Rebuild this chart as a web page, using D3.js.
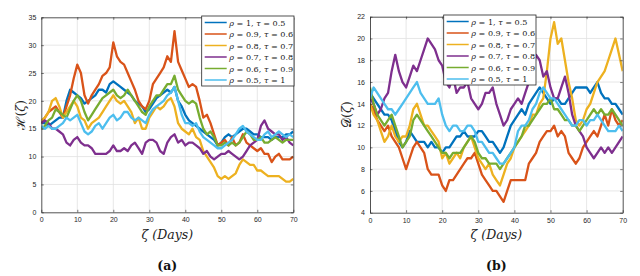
<!DOCTYPE html>
<html>
<head>
<meta charset="utf-8">
<script src="https://cdn.jsdelivr.net/npm/d3@7"></script>
<style>
  body { margin: 0; background: #fff; }
  svg { display: block; }
  text.serif { font-family: "DejaVu Serif", serif; }
</style>
</head>
<body>
<div id="chart"></div>
<script>
// x values: days 0..70
const days = d3.range(0, 71);

const legendLabels = [
  ['1', '0.5'], ['0.9', '0.6'], ['0.8', '0.7'],
  ['0.7', '0.8'], ['0.6', '0.9'], ['0.5', '1']
];
const colors = ['#0072BD', '#D95319', '#EDB120', '#7E2F8E', '#77AC30', '#4DBEEE'];

const xTicks = [0, 10, 20, 30, 40, 50, 60, 70];
const hTicks = [0, 5, 10, 15, 20, 25, 30, 35];
const dTicks = [4, 6, 8, 10, 12, 14, 16, 18, 20, 22];

// panel (a) H(zeta)
const hBlue = [16,16,15.5,16,16.5,17,17,20,22,21.5,21,20.5,19.5,20,20.5,21,22,22,21.5,23,23.5,23,22.5,22,21.5,21,20,19.5,19,18,18.5,19.5,20.5,21,21.5,22,21.5,22.5,20,19,17.5,16.5,16,15.5,15,14.5,14,13.5,13,12,12.5,13.5,14,13.5,14,14.5,15,15,14.5,14,14,13.5,13.5,13.5,13,13.5,13.5,13.5,14,14,14.5];
const hOrange = [16,17,18,18.5,19,18,17,19,21,24,26.5,25,21,19.5,21,22,23,24.5,25,26,30.5,28,27,26.5,25,23.5,22,20,19,18.5,20,23,24,25,26,28,27,32.5,27,25.5,24,22.5,23,22.5,20,17,17.5,16,14,12,12.5,13,12,13.5,12,12.5,14,12.5,12,11.5,11,11.5,10.5,10.5,9,10,10.5,9.5,9.5,9.5,10];
const hYellow = [16.5,17,18,20,20.5,19,17,18,19,20,19,17,16.5,15,16,16.5,17,18,19,20,21,20,19.5,20,19,18,16,17,15,15,17,18,19,18.5,19,20,20.5,19,16,15,14.5,14,15,13.5,13,11,10,9,8,6.5,6,6.5,6,6.5,7,8.5,9.5,9,8.5,8.5,7.5,7.5,7,6.5,6.5,6.5,6.5,6,5.5,5.5,6];
const hPurple = [16,16.5,16,15,15,14.5,14,12.5,12,13,13.5,12.5,12,12,11.5,10.5,10.5,10.5,10.5,11,12,11,11,11.5,11,12,12.5,11.5,10.5,12.5,13,13,12.5,11,10.5,12.5,13.5,14,12.5,13,12,12.5,12.5,12,11.5,10.5,11,10,9.5,10,10.5,10.5,11,10.5,10,9.5,10,11,12,12.5,13,15.5,16.5,15,14.5,14,14,13,13.5,12.5,12];
const hGreen = [15,15.5,16.5,17,18.5,18,17.5,17,18.5,20,21,20,18,16.5,17.5,18.5,19.5,20.5,21,21.5,22,21,20.5,21,22,21,20,19,18,17.5,19,20,21,21,22,23,23,24.5,22,21,20,19.5,20,19.5,17,15,14,14.5,13.5,12,12,12.5,12,12.5,12,12.5,13.5,14.5,14,13,13,13.5,12.5,12.5,13,13.5,13,12.5,13,13,13];
const hCyan = [15.5,15,15.5,15,15,15.5,16,17,16.5,17,17.5,16,14.5,14,14.5,15.5,16,15,16,17,17.5,16.5,17,18,18,17,16.5,17,16.5,16,17.5,18.5,19,19.5,20,21,21.5,22.5,20,17.5,16,16,15.5,16,14.5,13.5,13,12.5,12,11.5,11.5,12,12.5,13,14,15,15.5,14.5,14,13.5,13,13,14,14.5,13.5,14,14.5,14,13.5,14,13.5];

// panel (b) D(zeta)
const dBlue = [15,14.5,14,13.5,13,13,12.5,11.5,10.5,10,10.5,11.5,11,10.5,10.5,10.5,10,10.5,10,10,9.5,10,10,10.5,11,11,11.5,11,11,11,11.5,11.5,11,10.5,10.5,10,9.5,10,11,12,12.5,13,13.5,13,14,14.5,15,15.5,15,14.5,14,14.5,14.5,14,14,14.5,15,15.5,15.5,15.5,15.5,15,15.5,16,15,14.5,14.5,14,14,13.5,13];
const dOrange = [14,13.5,12.5,12,11.5,12,11,10.5,10,9,8,9,10,10.5,10,9.5,8,7.5,7.5,7.5,6.5,6,7,7,7.5,8,8.5,9,9,9.5,8.5,7.5,7,6.5,6,6,5.5,5,6,7,7,7,7,7,8.5,9,9.5,10.5,11,11.5,11.5,12,11,11.5,11,9.5,9,8.5,9,10,10.5,11,11.5,11,12,13,12,13.5,12.5,12,12.5];
const dYellow = [14,13,12.5,11.5,10.5,11,12,11,10.5,11,11,12,13.5,14,13,12,12,11.5,11,10.5,9,9.5,8.5,9,9.5,9,10,10.5,11,10,9,8.5,8,8.5,7.5,7,6.5,7.5,8.5,9,10,10.5,11,11.5,12,13,13,14,14.5,17,20,21.5,19.5,20,18,16,14.5,12.5,12,12.5,13.5,14,15,16,16.5,17,18,19,20,18.5,17];
const dPurple = [14.5,14,13,13.5,14.5,15,17,18.5,17,16,15.5,16.5,17.5,17,18,19,20,19.5,19,18,17.5,16,15.5,16.5,15,15.5,15.5,16,14.5,14,13.5,14,15,15,15.5,14,13,12,12.5,13.5,14,14.5,14,15,16,17,18.5,18,16.5,17,15.5,14.5,14.5,15.5,16.5,15,13,12,11.5,11,10,9.5,9,9.5,10,9.5,10,9.5,10,10.5,11];
const dGreen = [15.5,14,13,12.5,12,12.5,13,12,11,10,10.5,11,12.5,13,12.5,12,11.5,11,10.5,10,9.5,9.5,9,9.5,9.5,9.5,10,10.5,11,10.5,9.5,9,9,8.5,8.5,8.5,8,8.5,9,9.5,10,10.5,11,12,12,12.5,13,13.5,14,14,14.5,13.5,13.5,13,12.5,12.5,12,12,11.5,12,12.5,13,13.5,13,13.5,13,13,13.5,13,12.5,12];
const dCyan = [14.5,15.5,15,14.5,14,13.5,13.5,13,13.5,14,14.5,15,15.5,16,15,14.5,14,14,14,14.5,13,12,11.5,12,12,11.5,11.5,12,12,11.5,10.5,10.5,10,9.5,9.5,9,8.5,8.5,9,9.5,10,11.5,12,12,12.5,13.5,14,15,15.5,15,14.5,14.5,14,13.5,13,12.5,12,12,12.5,12.5,12,12.5,12.5,13,12.5,12,11.5,11.5,11.5,12,11.5];

const W = 640, H = 276;
const svg = d3.select('#chart').append('svg')
  .attr('width', W).attr('height', H);

function drawPanel(cfg) {
  const { left, right, top, bottom, yDomain, yTicks, series, leg, yLabel, caption } = cfg;
  const x = d3.scaleLinear().domain([0, 70]).range([left, right]);
  const y = d3.scaleLinear().domain(yDomain).range([bottom, top]);
  const g = svg.append('g');

  // grid
  g.append('g').selectAll('line').data(xTicks.slice(1, -1)).join('line')
    .attr('x1', d => x(d)).attr('x2', d => x(d)).attr('y1', top).attr('y2', bottom)
    .attr('stroke', '#e1e1e1').attr('stroke-width', 0.8);
  g.append('g').selectAll('line').data(yTicks.slice(1, -1)).join('line')
    .attr('y1', d => y(d)).attr('y2', d => y(d)).attr('x1', left).attr('x2', right)
    .attr('stroke', '#e1e1e1').attr('stroke-width', 0.8);

  // series
  const clipId = 'clip' + caption;
  svg.append('clipPath').attr('id', clipId).append('rect')
    .attr('x', left).attr('y', top).attr('width', right - left).attr('height', bottom - top);
  const line = d3.line().x((d, i) => x(days[i])).y(d => y(d));
  g.append('g').attr('clip-path', `url(#${clipId})`)
    .selectAll('path').data(series).join('path')
    .attr('d', line)
    .attr('fill', 'none')
    .attr('stroke', (d, i) => colors[i])
    .attr('stroke-width', 2.3)
    .attr('stroke-linejoin', 'round');

  // axes (box with inward ticks)
  const axCol = '#262626';
  const tk = 2.5;
  const bottomAx = d3.axisBottom(x).tickValues(xTicks).tickSizeInner(-tk).tickSizeOuter(0).tickPadding(5);
  const leftAx = d3.axisLeft(y).tickValues(yTicks).tickSizeInner(-tk).tickSizeOuter(0).tickPadding(5);
  const topAx = d3.axisTop(x).tickValues(xTicks).tickSizeInner(-tk).tickSizeOuter(0).tickFormat('');
  const rightAx = d3.axisRight(y).tickValues(yTicks).tickSizeInner(-tk).tickSizeOuter(0).tickFormat('');
  const styleAx = a => {
    a.attr('font-family', 'Liberation Sans, Arial, sans-serif');
    a.select('.domain').attr('stroke', axCol).attr('stroke-width', 0.8);
    a.selectAll('.tick line').attr('stroke', axCol).attr('stroke-width', 0.6);
    a.selectAll('.tick text').attr('fill', axCol).attr('font-size', 7);
  };
  g.append('g').attr('transform', `translate(0,${bottom})`).call(bottomAx).call(styleAx);
  g.append('g').attr('transform', `translate(${left},0)`).call(leftAx).call(styleAx);
  g.append('g').attr('transform', `translate(0,${top})`).call(topAx).call(styleAx);
  g.append('g').attr('transform', `translate(${right},0)`).call(rightAx).call(styleAx);

  // legend
  const lg = g.append('g').attr('transform', `translate(${leg.x},${leg.y})`);
  lg.append('rect').attr('width', leg.w).attr('height', leg.h)
    .attr('fill', '#fff').attr('stroke', axCol).attr('stroke-width', 0.8);
  legendLabels.forEach((lab, i) => {
    const cy = 6.5 + i * 11.5;
    lg.append('line').attr('x1', 3).attr('x2', 25).attr('y1', cy).attr('y2', cy)
      .attr('stroke', colors[i]).attr('stroke-width', 1.5);
    const t = lg.append('text').attr('class', 'serif').attr('x', 27.5).attr('y', cy + 3)
      .attr('font-size', 8.1).attr('fill', '#222');
    t.append('tspan').attr('font-style', 'italic').text('ρ');
    t.append('tspan').text(` = ${lab[0]}, `);
    t.append('tspan').attr('font-style', 'italic').text('τ');
    t.append('tspan').text(` = ${lab[1]}`);
  });

  // y label
  const yl = svg.append('text').attr('class', 'serif')
    .attr('transform', `translate(${yLabel.x},${(top + bottom) / 2}) rotate(-90)`)
    .attr('text-anchor', 'middle')
    .attr('font-size', 12.5).attr('fill', '#222');
  yl.append('tspan').text(yLabel.sym);
  yl.append('tspan').text('(');
  yl.append('tspan').attr('font-style', 'italic').text('ζ');
  yl.append('tspan').text(')');

  // x label
  svg.append('text').attr('class', 'serif')
    .attr('x', (left + right) / 2).attr('y', 239)
    .attr('text-anchor', 'middle')
    .attr('font-style', 'italic')
    .attr('font-size', 12.5).attr('fill', '#222')
    .text('ζ (Days)');

  // caption
  svg.append('text').attr('class', 'serif')
    .attr('x', (left + right) / 2).attr('y', 270)
    .attr('text-anchor', 'middle')
    .attr('font-weight', 'bold')
    .attr('font-size', 12.5).attr('fill', '#111')
    .text(`(${caption})`);
}

drawPanel({
  left: 41.3, right: 293.3, top: 17.3, bottom: 212.3,
  yDomain: [0, 35], yTicks: hTicks,
  series: [hBlue, hOrange, hYellow, hPurple, hGreen, hCyan],
  leg: { x: 201.7, y: 16, w: 92.3, h: 70 },
  yLabel: { x: 25, sym: 'ℋ' },
  caption: 'a'
});

drawPanel({
  left: 370, right: 622.7, top: 16.7, bottom: 212.7,
  yDomain: [4, 22], yTicks: dTicks,
  series: [dBlue, dOrange, dYellow, dPurple, dGreen, dCyan],
  leg: { x: 443.7, y: 15, w: 92.3, h: 70 },
  yLabel: { x: 351, sym: '𝒟' },
  caption: 'b'
});
</script>
</body>
</html>
